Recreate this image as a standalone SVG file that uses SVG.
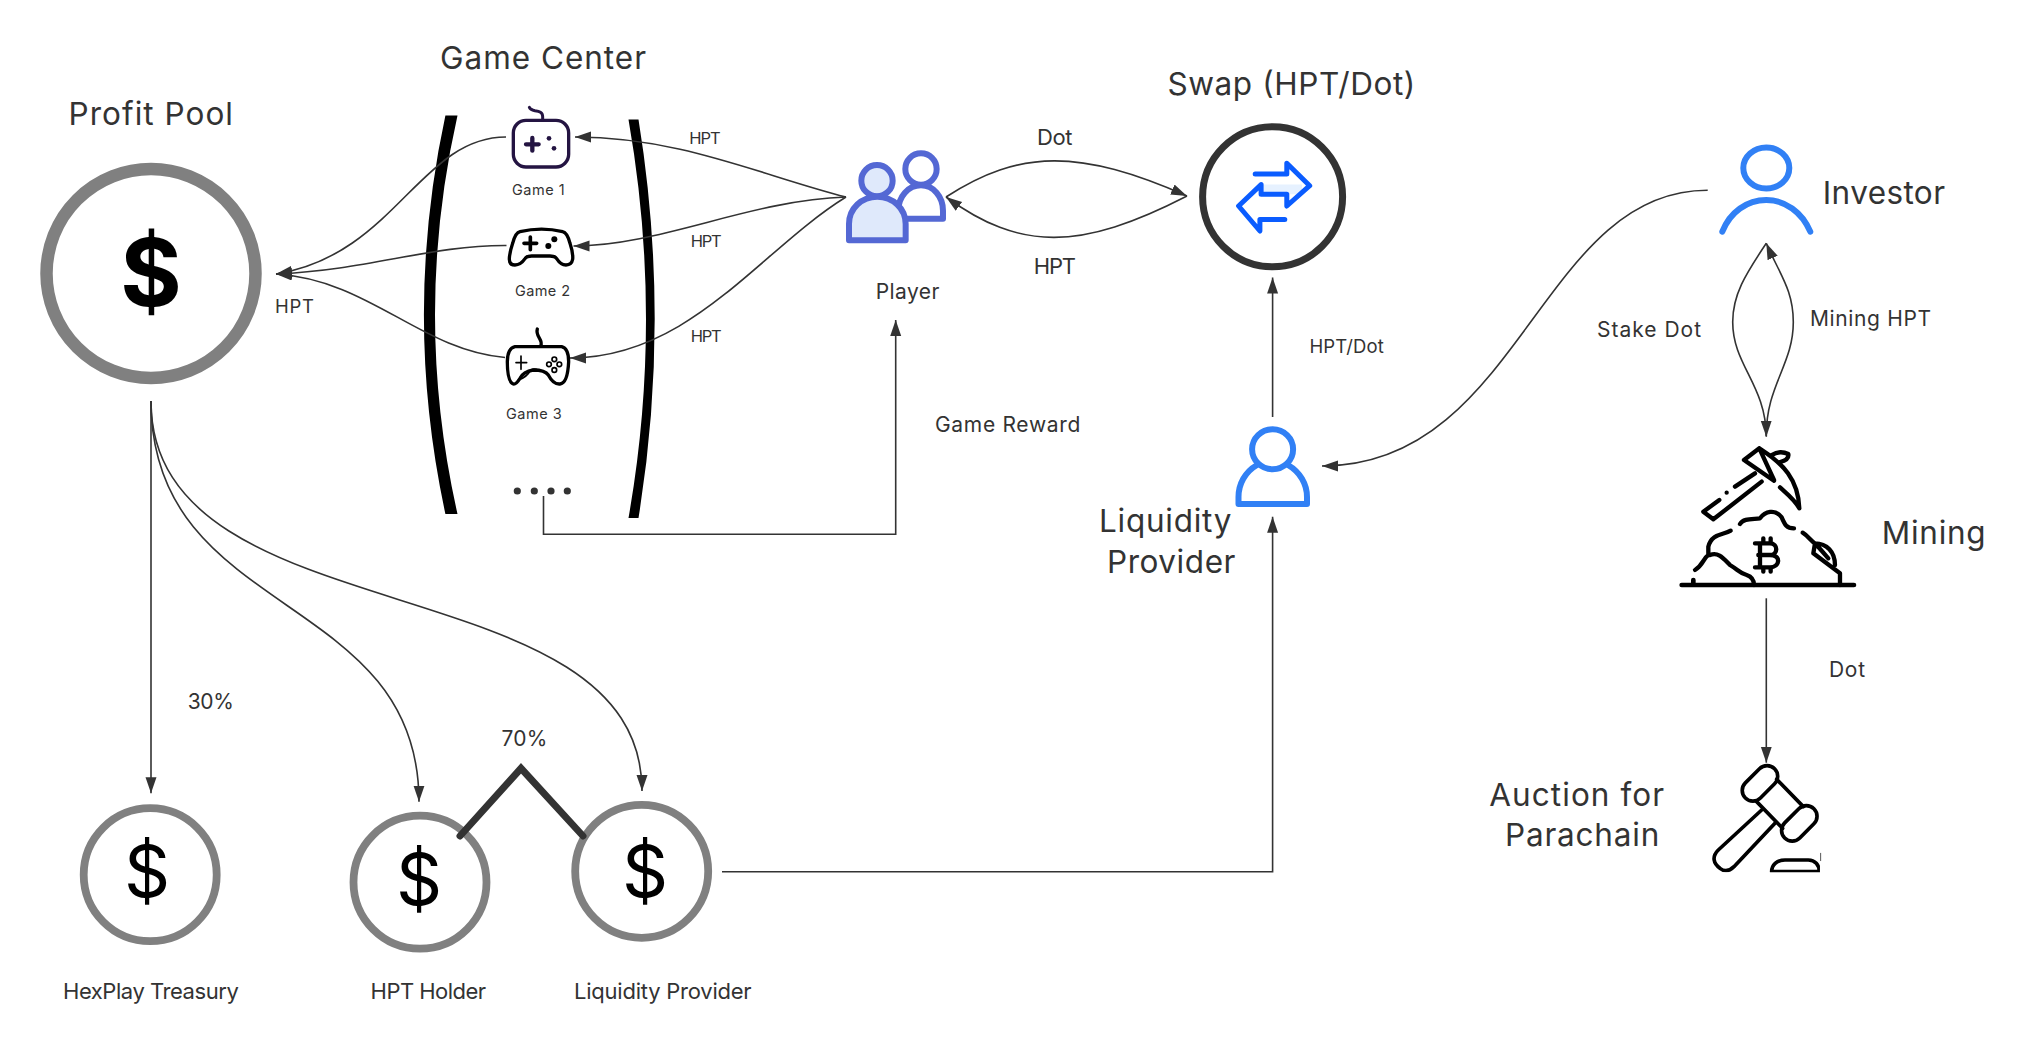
<svg xmlns="http://www.w3.org/2000/svg" width="2036" height="1047" viewBox="0 0 2036 1047">
<style>
text{font-family:Inter,"Liberation Sans",sans-serif;fill:#333;font-weight:400;transform:translateY(-1px)}
.s14{font-size:14.5px}.s16{font-size:16.5px}.s18{font-size:18.5px}.s20{font-size:21px}.s21{font-size:22px}.s30{font-size:31.5px}
.dl{font-size:72px;fill:#000;text-anchor:middle}
.c{fill:none;stroke:#333;stroke-width:1.6}
.a{marker-end:url(#ah)}
.ring{fill:#fff;stroke:#808080}
.ic{fill:none;stroke:#000;stroke-linecap:round;stroke-linejoin:round}
.blue{fill:none;stroke:#3180f5;stroke-width:6;stroke-linecap:round;stroke-linejoin:round}
.pl{stroke:#5468d4;stroke-linejoin:round}
</style>
<defs>
<marker id="ah" markerUnits="userSpaceOnUse" markerWidth="17" markerHeight="12" refX="16" refY="5.5" orient="auto"><path d="M0 0L16 5.5L0 11z" fill="#333"/></marker>
<clipPath id="hc"><rect x="740" y="410" width="340" height="347"/></clipPath>
</defs>
<rect width="2036" height="1047" fill="#fff"/>

<g id="brackets">
<path fill="#000" d="M445.4 115.4H457.5Q412.5 315 457.5 514H445.4Q402.4 315 445.4 115.4Z"/>
<path fill="#000" d="M628.5 119.5H638.5Q670.9 319 638.5 518H628.5Q663.5 319 628.5 119.5Z"/>
</g>

<g id="connectors">
<path class="c a" d="M846 197C760 175 680 137 575 137"/>
<path class="c a" d="M846 197C750 200 660 246 573.5 246"/>
<path class="c a" d="M846 197C760 250 690 358 570 358"/>
<path class="c a" d="M506 137C420 137 395 255 276 274"/>
<path class="c a" d="M506.5 245.5C430 245 370 270 276 274"/>
<path class="c a" d="M505 357.5C420 350 370 280 276 274"/>
<path class="c a" d="M151 401V793.3"/>
<path class="c a" d="M151 401C151 620 419 590 419 801.7"/>
<path class="c a" d="M151 401C151 640 642 560 642 791"/>
<path class="c a" d="M543.5 496V534.3H895.7V320"/>
<path class="c a" d="M946 197C1020 149 1080 149 1187 196"/>
<path class="c a" d="M1187 196C1080 251 1020 251 946 197"/>
<path class="c a" d="M1272.6 417V277.5"/>
<path class="c a" d="M722 871.7H1272.6V516.8"/>
<path class="c a" d="M1707.7 190.3C1540 190 1520 466 1322 466"/>
<path class="c a" d="M1766.3 243.3C1745 275 1732.7 295 1732.7 322C1732.7 365 1766 385 1766.3 436.7"/>
<path class="c a" d="M1766.3 436C1766 385 1793.3 365 1793.3 322C1793.3 290 1780 275 1766.3 243.3"/>
<path class="c a" d="M1766.3 598.3V762.7"/>
</g>

<g id="profit-pool">
<circle class="ring" cx="151" cy="273.5" r="104.5" stroke-width="12.5"/>
<text x="151" y="307" style="font-size:94px;font-weight:700;fill:#000;text-anchor:middle">$</text>
<text class="s30" x="68.5" y="125.7" textLength="164.5">Profit Pool</text>
</g>

<g id="game-center"><text class="s30" x="440" y="70" textLength="206">Game Center</text></g>

<g id="game-1">
<g transform="translate(490 100) scale(.3333)" fill="none" stroke="#241442" stroke-linecap="round">
<rect x="70" y="61" width="166" height="140" rx="38" stroke-width="10"/>
<path stroke-width="9" d="M158 60V50C158 36 148 34 135 32C125 30 120 28 118 22"/>
<path stroke-width="13" d="M108 133H146M127 114V152"/>
<circle cx="177" cy="115" r="7" fill="#241442" stroke="none"/><circle cx="192" cy="145" r="7" fill="#241442" stroke="none"/>
</g>
<text class="s14" x="512" y="196" textLength="52.6">Game 1</text>
</g>

<g id="game-2">
<g transform="translate(490 210) scale(.3333)" class="ic" stroke-width="10">
<path d="M90 65Q155 50 218 65Q232 68 240 100Q250 130 248 148Q245 165 228 165Q212 165 200 146Q195 138 180 138H125Q110 138 105 146Q92 165 75 165Q58 165 58 148Q58 130 68 100Q76 68 90 65Z"/>
<path stroke-width="11" d="M102 100H140M121 81V119"/>
<circle cx="175" cy="108" r="9" fill="#000" stroke="none"/><circle cx="193" cy="88" r="9" fill="#000" stroke="none"/>
</g>
<text class="s14" x="515" y="296.8" textLength="55">Game 2</text>
</g>

<g id="game-3">
<g transform="translate(490 320) scale(.3333)" class="ic" stroke-width="10">
<path d="M75 80H215Q236 85 236 125Q233 190 210 192Q190 194 175 165Q165 150 130 150Q100 155 90 175Q78 194 70 192Q52 185 52 125Q52 85 75 80Z"/>
<path d="M152 78C162 60 135 50 142 27"/>
<path stroke-width="5" d="M78 128H110M93 108V148M85 180Q110 172 122 150Q130 146 140 148"/>
<g stroke-width="5"><circle cx="193" cy="118" r="7"/><circle cx="193" cy="150" r="7"/><circle cx="177" cy="133" r="7"/><circle cx="208" cy="133" r="7"/></g>
</g>
<text class="s14" x="506" y="420" textLength="55.6">Game 3</text>
</g>

<g id="more-games" fill="#333"><circle cx="517.3" cy="491" r="3.6"/><circle cx="534.3" cy="491" r="3.6"/><circle cx="551" cy="491" r="3.6"/><circle cx="567.3" cy="491" r="3.6"/></g>

<g id="player">
<g transform="translate(840 140) scale(.3333)" class="pl" stroke-width="18">
<circle cx="243" cy="87" r="47" fill="#fff"/>
<path d="M175 236H309V212C309 170 280 136 243 136C205 136 175 170 175 212Z" fill="#fff"/>
<circle cx="111" cy="122" r="47" fill="#dfe9fb"/>
<path d="M27 301H197V252C197 205 158 170 112 170C65 170 27 205 27 252Z" fill="#dfe9fb"/>
</g>
<text class="s20" x="875.7" y="300" textLength="63.6">Player</text>
</g>

<g id="swap">
<circle cx="1272.6" cy="196.8" r="70" fill="#fff" stroke="#333" stroke-width="7"/>
<path d="M1261 184.6H1302V194.3H1261Z" fill="#e6f1ff"/>
<path fill="none" stroke="#0a5cff" stroke-width="5" stroke-linecap="round" stroke-linejoin="round" d="M1255.2 173.9H1286.8V163.2L1309.7 185.7L1286.8 206V194.3H1261.1V184.6L1238.6 206L1259.9 231V219.6H1284.8"/>
<text class="s30" x="1167.4" y="96" textLength="247.9">Swap (HPT/Dot)</text>
</g>

<g id="liquidity-provider-user">
<ellipse class="blue" cx="1272.6" cy="449.3" rx="20.5" ry="20"/>
<path class="blue" d="M1257 465C1245 472 1238.5 484 1238.5 497V504H1307V497C1307 484 1300 472 1288 465"/>
<text class="s30" x="1099" y="533" textLength="132.5">Liquidity</text>
<text class="s30" x="1107" y="574" textLength="128.4">Provider</text>
</g>

<g id="investor">
<ellipse class="blue" cx="1766.3" cy="168" rx="23" ry="20.5"/>
<path class="blue" d="M1722.3 231.7C1730 212 1747 200 1766.3 200C1785 200 1802 212 1810.3 231.7"/>
<text class="s30" x="1822.7" y="205" textLength="122.3">Investor</text>
</g>

<g id="mining">
<g transform="translate(1680 430) scale(.3333)" class="ic" stroke-width="13">
<path d="M192 90L238 55L282 150M192 90L282 152M238 55C310 100 355 150 358 235C345 210 320 190 300 172M275 75Q300 60 325 72Q328 90 300 96"/>
<path d="M225 130L165 170M140 188L140 188M118 210L70 245L100 268L245 155"/>
<path d="M180 282C190 265 215 268 240 265C255 245 285 235 305 262C315 285 320 295 342 295"/>
<path d="M368 308C385 318 395 335 405 340C440 340 465 365 465 405M405 340L400 370L480 430V465M410 345L445 385"/>
<path d="M152 302C130 315 95 310 85 350V375C70 385 70 405 45 420M90 375C115 365 130 385 150 405C175 420 180 430 200 435C215 440 222 450 222 465"/>
<path stroke-width="14" d="M5 465H522M40 450V465"/>
<path d="M225 340H270C295 340 295 375 270 375H235M270 375C305 375 300 412 270 412H225M240 340V412M250 325V340M272 325V340M250 412V425M272 412V425"/>
</g>
<text class="s30" x="1881.7" y="545" textLength="104">Mining</text>
</g>

<g id="auction">
<g transform="translate(1460 620) scale(.3333)" class="ic" stroke-width="11">
<g clip-path="url(#hc)">
<rect x="-62" y="-32" width="124" height="64" rx="32" transform="translate(900 490) rotate(-45)"/>
<rect x="-62" y="-32" width="124" height="64" rx="32" transform="translate(1018 610) rotate(-45)"/>
<path d="M950 478L1030 560M890 545L968 625"/>
<path d="M905 570L775 690C755 710 760 730 780 745C795 757 810 752 822 740L945 610"/>
<path d="M935 755C935 735 950 720 975 720H1045C1065 720 1078 735 1078 755Z"/>
</g>
<path stroke-width="3" stroke="#555" d="M1082 700V722"/>
</g>
<text class="s30" x="1489.3" y="806.7" textLength="174.7">Auction for</text>
<text class="s30" x="1505" y="846.7" textLength="154.3">Parachain</text>
</g>

<g id="hexplay-treasury">
<circle class="ring" cx="150.2" cy="874.7" r="66.5" stroke-width="7.8"/>
<text class="dl" x="147" y="898">$</text>
<text class="s21" x="63" y="1000" textLength="175.8">HexPlay Treasury</text>
</g>
<g id="hpt-holder">
<circle class="ring" cx="420" cy="882.2" r="66.5" stroke-width="7.8"/>
<text class="dl" x="419" y="906">$</text>
<text class="s21" x="370.6" y="1000" textLength="115.4">HPT Holder</text>
</g>
<g id="liquidity-provider">
<circle class="ring" cx="641.7" cy="871.3" r="66.5" stroke-width="7.8"/>
<text class="dl" x="645" y="898">$</text>
<text class="s21" x="574" y="1000" textLength="177.6">Liquidity Provider</text>
</g>
<path id="split" fill="none" stroke="#333" stroke-width="7" stroke-linecap="round" d="M460 836L521 768.3L583 836"/>

<g id="labels">
<text class="s18" x="275" y="314" textLength="39">HPT</text>
<text class="s16" x="689.3" y="145" textLength="31.4">HPT</text>
<text class="s16" x="690.7" y="247.7" textLength="31">HPT</text>
<text class="s16" x="690.7" y="342.7" textLength="31">HPT</text>
<text class="s21" x="1037" y="146" textLength="35.5">Dot</text>
<text class="s21" x="1033.8" y="274.6" textLength="42.2">HPT</text>
<text class="s20" x="935" y="432.9" textLength="145.4">Game Reward</text>
<text class="s18" x="1309.4" y="354.3" textLength="74.3">HPT/Dot</text>
<text class="s20" x="1597" y="337.7" textLength="104">Stake Dot</text>
<text class="s20" x="1810" y="326.7" textLength="121">Mining HPT</text>
<text class="s20" x="1829" y="678.3" textLength="36">Dot</text>
<text class="s20" x="187.8" y="710" textLength="46">30%</text>
<text class="s20" x="501.4" y="746.7" textLength="46">70%</text>
</g>
</svg>
